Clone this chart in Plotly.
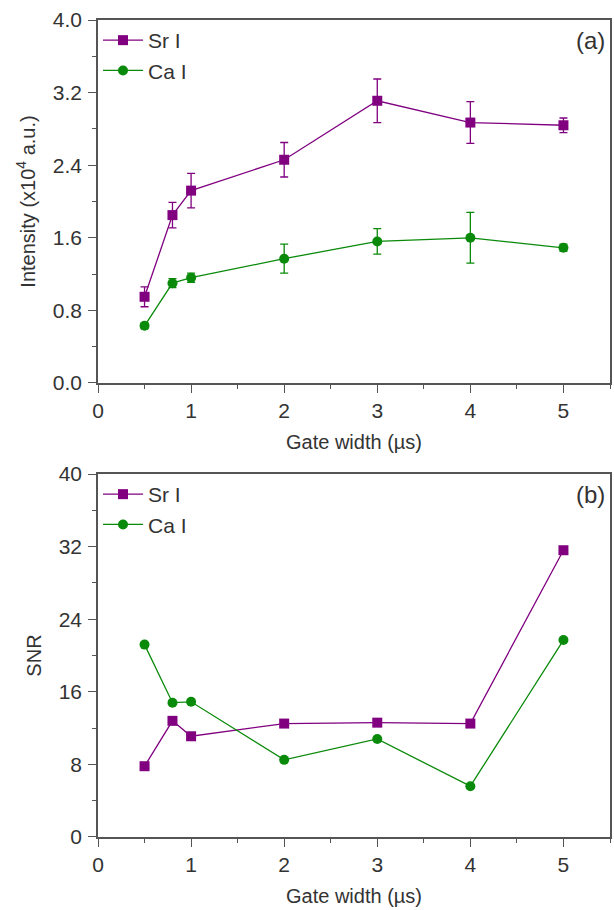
import plotly.graph_objects as go

gate_width = [0.5, 0.8, 1.0, 2.0, 3.0, 4.0, 5.0]

sr_intensity = [0.95, 1.85, 2.12, 2.46, 3.11, 2.87, 2.84]
sr_intensity_err = [0.11, 0.14, 0.19, 0.19, 0.24, 0.23, 0.08]
ca_intensity = [0.63, 1.10, 1.16, 1.37, 1.56, 1.60, 1.49]
ca_intensity_err = [0.03, 0.05, 0.05, 0.16, 0.14, 0.28, 0.04]

sr_snr = [7.8, 12.8, 11.1, 12.5, 12.6, 12.5, 31.6]
ca_snr = [21.2, 14.8, 14.9, 8.5, 10.8, 5.6, 21.7]

PURPLE = "#800080"
GREEN = "#0a8a0a"
AXIS = "#555555"
TXT = "#333333"
FONT = "Liberation Sans, Arial, sans-serif"

fig = go.Figure()

def add(x, y, name, color, symbol, xa, ya, legend, err=None):
    kw = {}
    if err is not None:
        kw["error_y"] = dict(type="data", array=err, visible=True,
                             color=color, thickness=1.3, width=4)
    fig.add_trace(go.Scatter(
        x=x, y=y, name=name, mode="lines+markers",
        line=dict(color=color, width=1.3),
        marker=dict(color=color, symbol=symbol, size=10),
        xaxis=xa, yaxis=ya, legend=legend, **kw))

add(gate_width, sr_intensity, "Sr I", PURPLE, "square", "x", "y", "legend", sr_intensity_err)
add(gate_width, ca_intensity, "Ca I", GREEN, "circle", "x", "y", "legend", ca_intensity_err)
add(gate_width, sr_snr, "Sr I", PURPLE, "square", "x2", "y2", "legend2")
add(gate_width, ca_snr, "Ca I", GREEN, "circle", "x2", "y2", "legend2")

top_dom = [0.5557, 1.0]
bot_dom = [0.0, 0.4443]

xcommon = dict(range=[0, 5.5], dtick=1, tick0=0, showline=True, mirror=True,
               linecolor=AXIS, linewidth=1.6, ticks="outside", ticklen=8,
               tickcolor=AXIS, tickwidth=1.4, showgrid=False, zeroline=False,
               tickfont=dict(size=21, color=TXT),
               minor=dict(dtick=0.5, tick0=0, ticks="outside", ticklen=4,
                          tickcolor=AXIS, showgrid=False),
               title=dict(text="Gate width (µs)", font=dict(size=20, color=TXT),
                          standoff=14))
ycommon = dict(showline=True, mirror=True, linecolor=AXIS, linewidth=1.6,
               ticks="outside", ticklen=8, tickcolor=AXIS, tickwidth=1.4,
               showgrid=False, zeroline=False, ticklabelstandoff=2,
               tickfont=dict(size=21, color=TXT))

fig.update_layout(
    width=614, height=910,
    margin=dict(l=98, r=2, t=20, b=73),
    paper_bgcolor="white", plot_bgcolor="white",
    font=dict(family=FONT, color=TXT),
    xaxis=dict(domain=[0, 1], anchor="y", **xcommon),
    xaxis2=dict(domain=[0, 1], anchor="y2", **xcommon),
    yaxis=dict(domain=top_dom, anchor="x", range=[0, 4], dtick=0.8, tick0=0,
               tickformat=".1f",
               minor=dict(dtick=0.4, tick0=0, ticks="outside", ticklen=4,
                          tickcolor=AXIS, showgrid=False),
               title=dict(text="Intensity (x10<sup>4</sup> a.u.)",
                          font=dict(size=20, color=TXT), standoff=12),
               **ycommon),
    yaxis2=dict(domain=bot_dom, anchor="x2", range=[0, 40], dtick=8, tick0=0,
                minor=dict(dtick=4, tick0=0, ticks="outside", ticklen=4,
                           tickcolor=AXIS, showgrid=False),
                title=dict(text="SNR", font=dict(size=20, color=TXT), standoff=12),
                **ycommon),
    legend=dict(x=0.0, y=top_dom[1], xanchor="left", yanchor="top",
                bgcolor="rgba(0,0,0,0)", font=dict(size=21, color=TXT),
                tracegroupgap=0, itemwidth=40),
    legend2=dict(x=0.0, y=bot_dom[1], xanchor="left", yanchor="top",
                 bgcolor="rgba(0,0,0,0)", font=dict(size=21, color=TXT),
                 tracegroupgap=0, itemwidth=40),
    showlegend=True,
    annotations=[
        dict(text="(a)", x=0.995, y=0.985, xref="x domain", yref="y domain",
             xanchor="right", yanchor="top", showarrow=False,
             font=dict(size=24, color=TXT)),
        dict(text="(b)", x=0.995, y=0.985, xref="x2 domain", yref="y2 domain",
             xanchor="right", yanchor="top", showarrow=False,
             font=dict(size=24, color=TXT)),
    ],
)

fig.write_html("out.html")
